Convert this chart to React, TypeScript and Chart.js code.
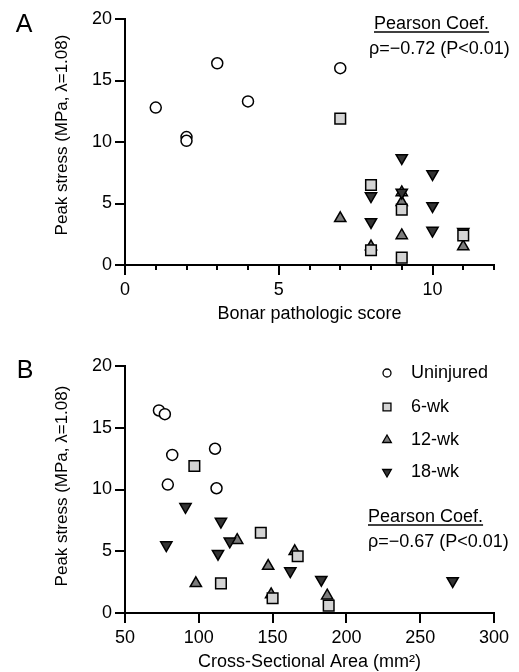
import React, { useEffect, useRef } from "react";
import { Chart, registerables } from "chart.js";

Chart.register(...registerables);

const FONT = '"Liberation Sans", Arial, Helvetica, sans-serif';

const seriesLabels = ["Uninjured", "6-wk", "12-wk", "18-wk"];

// Panel A: Bonar pathologic score vs peak stress
const bonarUninjured = [1, 2, 2, 3, 4, 7];
const stressAUninjured = [12.8, 10.4, 10.1, 16.4, 13.3, 16.0];
const bonar6wk = [7, 8, 8, 9, 9, 11];
const stressA6wk = [11.9, 6.5, 1.2, 4.5, 0.6, 2.4];
const bonar12wk = [7, 8, 9, 9, 9, 11];
const stressA12wk = [3.8, 1.5, 5.9, 5.1, 2.4, 1.5];
const bonar18wk = [8, 8, 9, 9, 10, 10, 10, 11];
const stressA18wk = [5.6, 3.5, 8.7, 5.9, 7.4, 4.8, 2.8, 2.7];

// Panel B: cross-sectional area vs peak stress
const csaUninjured = [73, 77, 82, 79, 111, 112];
const stressBUninjured = [16.4, 16.1, 12.8, 10.4, 13.3, 10.1];
const csa6wk = [97, 115, 142, 150, 167, 188];
const stressB6wk = [11.9, 2.4, 6.5, 1.2, 4.6, 0.6];
const csa12wk = [98, 126, 147, 149, 165, 187];
const stressB12wk = [2.4, 5.9, 3.8, 1.5, 5.0, 1.4];
const csa18wk = [78, 91, 113, 115, 121, 162, 183, 272];
const stressB18wk = [5.5, 8.6, 4.8, 7.4, 5.8, 3.4, 2.7, 2.6];

const yTickValues = [0, 5, 10, 15, 20];
const bonarMinorTicks = [1, 2, 3, 4, 6, 7, 8, 9, 11, 12];

const markerStyles = [
  { pointStyle: "circle", bg: "#ffffff", radius: 5.5, rotation: 0, order: 0, legendR: 4 },
  { pointStyle: "rect", bg: "#d4d4d4", radius: 7.5, rotation: 0, order: 1, legendR: 5.6 },
  { pointStyle: "triangle", bg: "#7c7c7c", radius: 6.5, rotation: 0, order: 3, legendR: 5 },
  { pointStyle: "triangle", bg: "#333333", radius: 6.5, rotation: 180, order: 2, legendR: 5 },
];

function zip(xs: number[], ys: number[]) {
  return xs.map((x, i) => ({ x, y: ys[i] }));
}

function makeDatasets(groups: { x: number[]; y: number[] }[]) {
  return groups.map((g, i) => {
    const s = markerStyles[i];
    return {
      label: seriesLabels[i],
      data: zip(g.x, g.y),
      pointStyle: s.pointStyle,
      pointRadius: s.radius,
      pointRotation: s.rotation,
      backgroundColor: s.bg,
      borderColor: "#000000",
      borderWidth: 1.5,
      order: s.order,
      clip: false as any,
    };
  });
}

function drawMarker(ctx: CanvasRenderingContext2D, style: string, x: number, y: number, r: number, rot: number, fill: string) {
  ctx.save();
  ctx.beginPath();
  if (style === "circle") {
    ctx.arc(x, y, r, 0, Math.PI * 2);
  } else if (style === "rect") {
    const s = Math.SQRT1_2 * r;
    ctx.rect(x - s, y - s, 2 * s, 2 * s);
  } else {
    let a = (rot * Math.PI) / 180;
    ctx.moveTo(x + Math.sin(a) * r, y - Math.cos(a) * r);
    a += (2 * Math.PI) / 3;
    ctx.lineTo(x + Math.sin(a) * r, y - Math.cos(a) * r);
    a += (2 * Math.PI) / 3;
    ctx.lineTo(x + Math.sin(a) * r, y - Math.cos(a) * r);
    ctx.closePath();
  }
  ctx.fillStyle = fill;
  ctx.fill();
  ctx.lineWidth = 1.3;
  ctx.strokeStyle = "#000";
  ctx.stroke();
  ctx.restore();
}

type PanelText = {
  letter: string;
  letterPos: [number, number];
  yTitle: string;
  yTitlePos: [number, number];
  xTitle: string;
  xTitleY: number;
  pearson: [string, string];
  pearsonPos: [number, number, number, number, number]; // x1, y1, x2, y2, underlineY
  legend?: { x: number; textX: number; ys: number[] };
  minorTicks?: number[];
};

function makeTextPlugin(t: PanelText) {
  return {
    id: "panelText",
    afterDraw(chart: any) {
      const ctx: CanvasRenderingContext2D = chart.ctx;
      const area = chart.chartArea;
      ctx.save();
      ctx.fillStyle = "#000";
      ctx.strokeStyle = "#000";
      if (t.minorTicks) {
        const xs = chart.scales.x;
        ctx.lineWidth = 2;
        ctx.beginPath();
        t.minorTicks.forEach((v) => {
          const px = Math.round(xs.getPixelForValue(v));
          ctx.moveTo(px, area.bottom);
          ctx.lineTo(px, area.bottom + 5);
        });
        ctx.stroke();
      }
      ctx.font = `25px ${FONT}`;
      ctx.textAlign = "center";
      ctx.textBaseline = "middle";
      ctx.fillText(t.letter, t.letterPos[0], t.letterPos[1]);
      ctx.save();
      ctx.translate(t.yTitlePos[0], t.yTitlePos[1]);
      ctx.rotate(-Math.PI / 2);
      ctx.font = `17px ${FONT}`;
      ctx.fillText(t.yTitle, 0, 0);
      ctx.restore();
      ctx.font = `18px ${FONT}`;
      ctx.fillText(t.xTitle, (area.left + area.right) / 2, t.xTitleY);
      ctx.textAlign = "left";
      const [x1, y1, x2, y2, uy] = t.pearsonPos;
      ctx.fillText(t.pearson[0], x1, y1);
      const w = ctx.measureText(t.pearson[0]).width;
      ctx.lineWidth = 1.3;
      ctx.beginPath();
      ctx.moveTo(x1, uy);
      ctx.lineTo(x1 + w, uy);
      ctx.stroke();
      ctx.fillText(t.pearson[1], x2, y2);
      if (t.legend) {
        const lg = t.legend;
        chart.data.datasets.forEach((ds: any, i: number) => {
          const s = markerStyles[i];
          drawMarker(ctx, s.pointStyle, lg.x, lg.ys[i], s.legendR, s.rotation, s.bg);
          ctx.fillStyle = "#000";
          ctx.font = `18px ${FONT}`;
          ctx.textAlign = "left";
          ctx.textBaseline = "middle";
          ctx.fillText(ds.label, lg.textX, lg.ys[i]);
        });
      }
      ctx.restore();
    },
  };
}

function axisCommon() {
  return {
    grid: {
      display: true,
      drawOnChartArea: false,
      drawTicks: true,
      tickLength: 10,
      color: "#000",
      lineWidth: 2,
    },
    border: { display: true, color: "#000", width: 2 },
  };
}

function makeConfig(opts: {
  datasets: any[];
  xMin: number;
  xMax: number;
  xStep: number;
  top: number;
  xHeight: number;
  text: PanelText;
}) {
  return {
    type: "scatter" as const,
    data: { datasets: opts.datasets },
    options: {
      responsive: false,
      animation: false,
      devicePixelRatio: 1,
      layout: { padding: { left: 0, right: 25, top: opts.top, bottom: 0 } },
      plugins: { legend: { display: false }, tooltip: { enabled: false } },
      scales: {
        x: {
          type: "linear",
          min: opts.xMin,
          max: opts.xMax,
          ...axisCommon(),
          ticks: {
            stepSize: opts.xStep,
            includeBounds: false,
            color: "#000",
            padding: 4,
            maxRotation: 0,
            font: { size: 18, family: FONT },
          },
          afterFit: (s: any) => {
            s.height = opts.xHeight;
          },
        },
        y: {
          type: "linear",
          min: 0,
          max: 20,
          ...axisCommon(),
          afterBuildTicks: (s: any) => {
            s.ticks = yTickValues.map((v) => ({ value: v }));
          },
          ticks: {
            color: "#000",
            padding: 3,
            font: { size: 18, family: FONT },
          },
          afterFit: (s: any) => {
            s.width = 125;
          },
        },
      },
    },
    plugins: [makeTextPlugin(opts.text)],
  };
}

export default function App() {
  const refA = useRef<HTMLCanvasElement>(null);
  const refB = useRef<HTMLCanvasElement>(null);

  useEffect(() => {
    const dsA = makeDatasets([
      { x: bonarUninjured, y: stressAUninjured },
      { x: bonar6wk, y: stressA6wk },
      { x: bonar12wk, y: stressA12wk },
      { x: bonar18wk, y: stressA18wk },
    ]);
    const dsB = makeDatasets([
      { x: csaUninjured, y: stressBUninjured },
      { x: csa6wk, y: stressB6wk },
      { x: csa12wk, y: stressB12wk },
      { x: csa18wk, y: stressB18wk },
    ]);
    const chartA = new Chart(
      refA.current as HTMLCanvasElement,
      makeConfig({
        datasets: dsA,
        xMin: 0,
        xMax: 12,
        xStep: 5,
        top: 19,
        xHeight: 75,
        text: {
          letter: "A",
          letterPos: [24, 25],
          yTitle: "Peak stress (MPa, λ=1.08)",
          yTitlePos: [62, 135],
          xTitle: "Bonar pathologic score",
          xTitleY: 314,
          pearson: ["Pearson Coef.", "ρ=−0.72 (P<0.01)"],
          pearsonPos: [374, 24, 369, 49, 32],
          minorTicks: bonarMinorTicks,
        },
      }) as any
    );
    const chartB = new Chart(
      refB.current as HTMLCanvasElement,
      makeConfig({
        datasets: dsB,
        xMin: 50,
        xMax: 300,
        xStep: 50,
        top: 46,
        xHeight: 59,
        text: {
          letter: "B",
          letterPos: [25, 51],
          yTitle: "Peak stress (MPa, λ=1.08)",
          yTitlePos: [62, 166],
          xTitle: "Cross-Sectional Area (mm²)",
          xTitleY: 342,
          pearson: ["Pearson Coef.", "ρ=−0.67 (P<0.01)"],
          pearsonPos: [368, 197, 368, 222, 205],
          legend: { x: 387, textX: 411, ys: [53, 87, 120, 152] },
        },
      }) as any
    );
    return () => {
      chartA.destroy();
      chartB.destroy();
    };
  }, []);

  return (
    <div
      style={{
        position: "absolute",
        left: 0,
        top: 0,
        width: 519,
        height: 672,
        background: "#ffffff",
        overflow: "hidden",
      }}
    >
      <canvas
        ref={refA}
        width={519}
        height={340}
        style={{ position: "absolute", left: 0, top: 0, width: 519, height: 340 }}
      />
      <canvas
        ref={refB}
        width={519}
        height={352}
        style={{ position: "absolute", left: 0, top: 320, width: 519, height: 352 }}
      />
    </div>
  );
}
